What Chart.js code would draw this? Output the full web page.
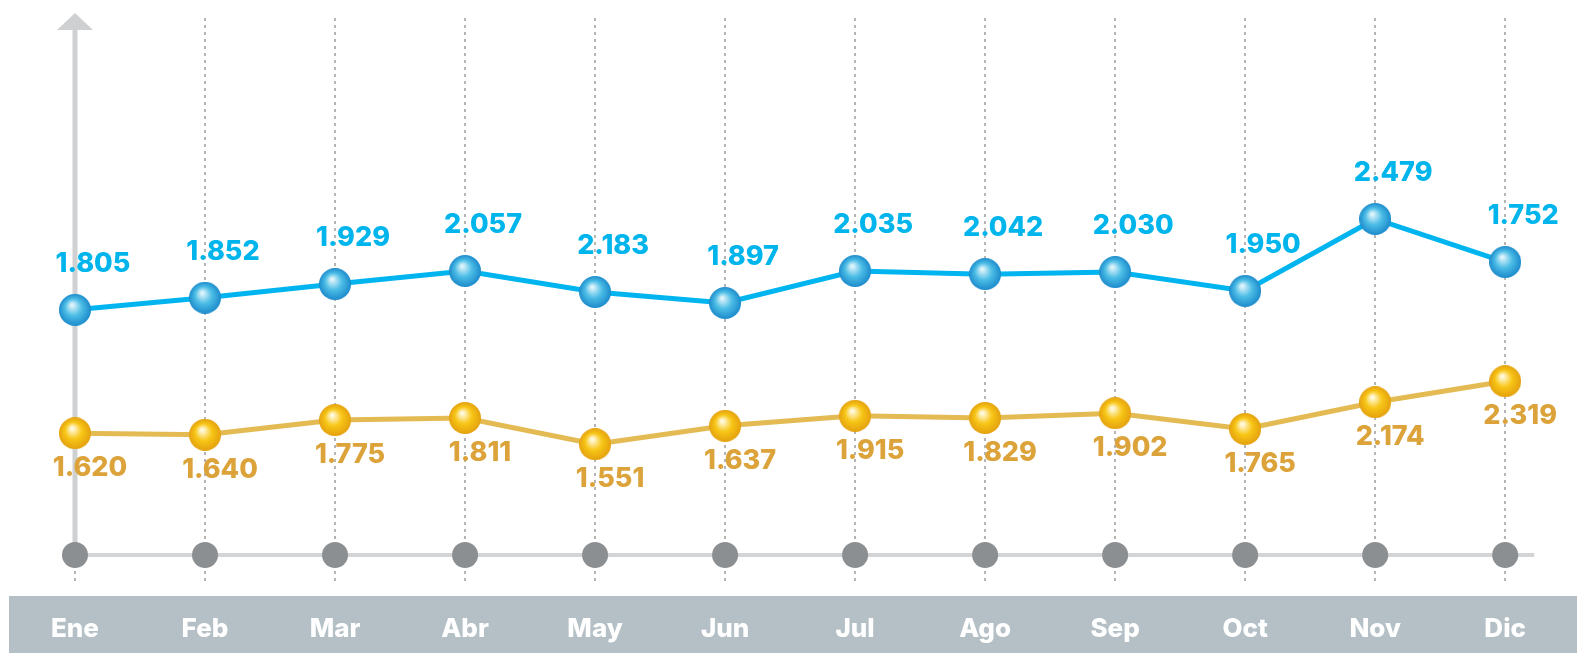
<!DOCTYPE html>
<html lang="es">
<head>
<meta charset="utf-8">
<title>Evolución mensual</title>
<script src="https://cdn.jsdelivr.net/npm/chart.js@4.4.1/dist/chart.umd.min.js"></script>
<style>
  html, body { margin:0; padding:0; background:#fff; }
  #wrap { position:relative; width:1577px; height:653px; }
</style>
</head>
<body>
<div id="wrap"><canvas id="chart"></canvas></div>
<script>
'use strict';

// ── Data ──────────────────────────────────────────────────────────────────────
var meses = ['Ene','Feb','Mar','Abr','May','Jun','Jul','Ago','Sep','Oct','Nov','Dic'];

// printed values
var etiquetasAzul = ['1.805','1.852','1.929','2.057','2.183','1.897','2.035','2.042','2.030','1.950','2.479','1.752'];
var etiquetasOro  = ['1.620','1.640','1.775','1.811','1.551','1.637','1.915','1.829','1.902','1.765','2.174','2.319'];

// plotted heights as drawn in the picture (0-100 index, the chart has no value axis)
var alturaAzul = [46.7, 49.0, 51.6, 54.1, 50.1, 48.0, 54.1, 53.5, 53.9, 50.3, 64.0, 55.8];
var alturaOro  = [23.2, 22.9, 25.7, 26.1, 21.1, 24.6, 26.5, 26.1, 27.0, 24.0, 29.1, 33.1];

// grey markers sitting on the x axis
var base = [0, 0, 0, 0, 0, 0, 0, 0, 0, 0, 0, 0];

var FONT = 'Inter, "Open Sans", sans-serif';

// ── Shaded ball markers ───────────────────────────────────────────────────────
function bola(r, light, mid, dark) {
  var c = document.createElement('canvas');
  c.width = c.height = r * 2;
  var g = c.getContext('2d');
  var grad = g.createRadialGradient(r - 3, r - 5, 1, r, r, r);
  grad.addColorStop(0, light);
  grad.addColorStop(0.5, mid);
  grad.addColorStop(1, dark);
  g.fillStyle = grad;
  g.beginPath(); g.arc(r, r, r, 0, Math.PI * 2); g.fill();
  return c;
}
var bolaAzul = bola(16, '#dff4fb', '#4cbde6', '#1c8bcc');
var bolaOro  = bola(16, '#fffbe2', '#f8c616', '#e4a10f');

// ── Plugins ───────────────────────────────────────────────────────────────────
var fondo = {
  id: 'fondo',
  beforeDraw: function(chart) {
    var ctx = chart.ctx;
    ctx.save();
    ctx.fillStyle = '#b4c0c6';
    ctx.fillRect(9, 596, chart.width - 9, chart.height - 596);
    ctx.restore();
  },
  beforeDatasetsDraw: function(chart) {
    var ctx = chart.ctx, sx = chart.scales.x, a = chart.chartArea;
    ctx.save();
    // dotted month guides
    ctx.strokeStyle = '#b5b5b5'; ctx.lineWidth = 2; ctx.setLineDash([3, 4]);
    meses.forEach(function(m, i) {
      var px = Math.round(sx.getPixelForValue(i));
      ctx.beginPath(); ctx.moveTo(px, a.top - 12); ctx.lineTo(px, a.bottom + 28); ctx.stroke();
    });
    ctx.setLineDash([]);
    // x axis
    ctx.strokeStyle = '#d3d4d6'; ctx.lineWidth = 4;
    ctx.beginPath(); ctx.moveTo(a.left, a.bottom); ctx.lineTo(a.right + 29, a.bottom); ctx.stroke();
    // y axis + arrow head
    ctx.strokeStyle = '#cfd0d2'; ctx.lineWidth = 5;
    ctx.beginPath(); ctx.moveTo(a.left, a.bottom); ctx.lineTo(a.left, a.top); ctx.stroke();
    ctx.fillStyle = '#cfd0d2';
    ctx.beginPath();
    ctx.moveTo(a.left - 18, a.top); ctx.lineTo(a.left, a.top - 17); ctx.lineTo(a.left + 18, a.top);
    ctx.closePath(); ctx.fill();
    ctx.restore();
  }
};

var rotulos = {
  id: 'rotulos',
  afterDatasetsDraw: function(chart) {
    var ctx = chart.ctx;
    ctx.save();
    ctx.font = '800 27px ' + FONT;
    ctx.textAlign = 'center'; ctx.textBaseline = 'middle';
    [[0, etiquetasAzul, '#00b4ec', 18, -46], [1, etiquetasOro, '#dca33b', 15, 35]].forEach(function(s) {
      var meta = chart.getDatasetMeta(s[0]);
      ctx.fillStyle = s[2];
      meta.data.forEach(function(p, i) {
        ctx.fillText(s[1][i], p.x + s[3], p.y + s[4]);
      });
    });
    ctx.restore();
  }
};

// ── Chart ─────────────────────────────────────────────────────────────────────
new Chart(document.getElementById('chart'), {
  type: 'line',
  data: {
    labels: meses,
    datasets: [
      { data: alturaAzul, borderColor: '#00b5ef', borderWidth: 5, pointStyle: bolaAzul, clip: false, tension: 0 },
      { data: alturaOro,  borderColor: '#e4ba52', borderWidth: 5, pointStyle: bolaOro,  clip: false, tension: 0 },
      { data: base, showLine: false, pointStyle: 'circle', pointRadius: 13, pointBackgroundColor: '#8c8f92', pointBorderWidth: 0, clip: false }
    ]
  },
  options: {
    responsive: true, maintainAspectRatio: false, animation: false, events: [],
    layout: { padding: { top: 30, left: 72, right: 53, bottom: 0 } },
    plugins: { legend: { display: false }, tooltip: { enabled: false } },
    scales: {
      x: {
        offset: false,
        grid: { display: false }, border: { display: false },
        afterFit: function(s) { s.height = 98; },
        ticks: { color: '#ffffff', padding: 51, font: { family: FONT, size: 26, weight: '800' }, maxRotation: 0, autoSkip: false }
      },
      y: { display: false, min: 0, max: 100 }
    }
  },
  plugins: [fondo, rotulos]
});
</script>
</body>
</html>
